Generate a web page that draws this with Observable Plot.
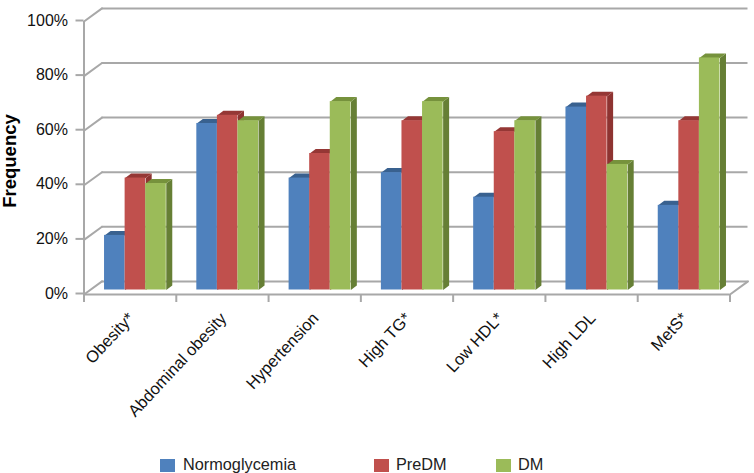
<!DOCTYPE html>
<html>
<head>
<meta charset="utf-8">
<script src="https://cdn.jsdelivr.net/npm/d3@7"></script>
<script src="https://cdn.jsdelivr.net/npm/@observablehq/plot@0.6"></script>
<style>
html,body{margin:0;padding:0;background:#fff;overflow:hidden}
#legend{position:relative;height:28px;font:16.3px "Liberation Sans",Arial,sans-serif;color:#222}
#legend i{position:absolute;top:13.5px;width:15px;height:13px}
#legend span{position:absolute;top:9px;line-height:20px}
</style>
</head>
<body>
<div id="chart"></div>
<div id="legend"></div>
<script>
const categories = ["Obesity*", "Abdominal obesity", "Hypertension", "High TG*", "Low HDL*", "High LDL", "MetS*"];
const normoglycemia = [20, 61, 41, 43, 34, 67, 31];
const preDM = [41, 64, 50, 62, 58, 71, 62];
const dm = [39, 62, 69, 69, 62, 46, 85];
const yTicks = [0, 20, 40, 60, 80, 100];
const seriesNames = ["Normoglycemia", "PreDM", "DM"];

const palette = [
  {front: "#4f81bd", top: "#39618f", side: "#3a6090"},
  {front: "#c0504d", top: "#953735", side: "#8e3331"},
  {front: "#9bbb59", top: "#76923c", side: "#667f35"}
];
const seriesValues = [normoglycemia, preDM, dm];

const font = '"Liberation Sans", Arial, sans-serif';
const grey = "#a8a8a8";
const wallX = 0.195, wallY = 4.8;     // floor depth, in scale units
const depthX = 0.065, depthY = 1.65;  // bar depth, in scale units
const barW = 0.223, barStart = 0.2225;

function barFaces(si) {
  const rows = categories.map((c, i) => {
    const x0 = i + barStart + si * barW, x1 = x0 + barW, v = seriesValues[si][i];
    return {x0, x1, y0: depthY, y1: depthY + v};
  });
  const side = [], top = [];
  rows.forEach((r, id) => {
    [[r.x1, r.y0], [r.x1 + depthX, r.y0 + depthY], [r.x1 + depthX, r.y1 + depthY], [r.x1, r.y1]]
      .forEach(([x, y]) => side.push({id, x, y}));
    [[r.x0, r.y1], [r.x0 + depthX, r.y1 + depthY], [r.x1 + depthX, r.y1 + depthY], [r.x1, r.y1]]
      .forEach(([x, y]) => top.push({id, x, y}));
  });
  return [
    Plot.line(side, {x: "x", y: "y", z: "id", fill: palette[si].side, stroke: "none", curve: "linear"}),
    Plot.line(top, {x: "x", y: "y", z: "id", fill: palette[si].top, stroke: "none", curve: "linear"}),
    Plot.rect(rows, {x1: "x0", x2: "x1", y1: "y0", y2: "y1", fill: palette[si].front})
  ];
}

const backLines = yTicks.map(v => ({x1: wallX, x2: 7 + wallX, y: v + wallY}));
const leftDiag = yTicks.flatMap(v => [{id: v, x: 0, y: v}, {id: v, x: wallX, y: v + wallY}]);
const rightDiag = [{x: 7, y: 0}, {x: 7 + wallX, y: wallY}];

const plot = Plot.plot({
  width: 754,
  height: 445,
  marginLeft: 83.5,
  marginRight: 24.5,
  marginTop: 21,
  marginBottom: 151,
  style: {fontFamily: font, background: "#fff", overflow: "visible"},
  x: {domain: [0, 7]},
  y: {domain: [0, 100]},
  marks: [
    Plot.ruleY(backLines, {x1: "x1", x2: "x2", y: "y", stroke: grey, strokeWidth: 2}),
    Plot.line(leftDiag, {x: "x", y: "y", z: "id", stroke: grey, strokeWidth: 2, curve: "linear"}),
    Plot.line(rightDiag, {x: "x", y: "y", stroke: grey, strokeWidth: 2, curve: "linear"}),
    Plot.ruleX([0], {y1: 0, y2: 100, stroke: grey, strokeWidth: 2}),
    Plot.ruleY([0], {x1: 0, x2: 7, stroke: grey, strokeWidth: 2}),
    Plot.axisX({ticks: d3.range(8), tickSize: 8, tickFormat: () => "", label: null, stroke: grey, strokeWidth: 2}),
    Plot.axisY({ticks: yTicks, tickSize: 8, tickPadding: 8, tickFormat: d => d + "%", label: null, stroke: grey, strokeWidth: 2, fill: "#111", fontSize: 16, dy: -1}),
    ...barFaces(0), ...barFaces(1), ...barFaces(2),
    Plot.text(categories, {
      x: (d, i) => i + 0.5, y: () => 0, text: d => d, rotate: -47, textAnchor: "end",
      dx: 1, dy: 21, fontSize: 16.5, fill: "#111"
    }),
    Plot.text(["Frequency"], {
      frameAnchor: "left", text: d => d, rotate: -90, textAnchor: "middle", dx: -74, dy: 3, fontSize: 18.5, fontWeight: "bold", fill: "#000"
    })
  ]
});
document.getElementById("chart").appendChild(plot);

const legendX = [[160, 183], [374, 396], [496, 518]];
document.getElementById("legend").innerHTML = seriesNames.map((n, i) =>
  `<i style="left:${legendX[i][0]}px;background:${palette[i].front}"></i><span style="left:${legendX[i][1]}px">${n}</span>`
).join("");
</script>
</body>
</html>
